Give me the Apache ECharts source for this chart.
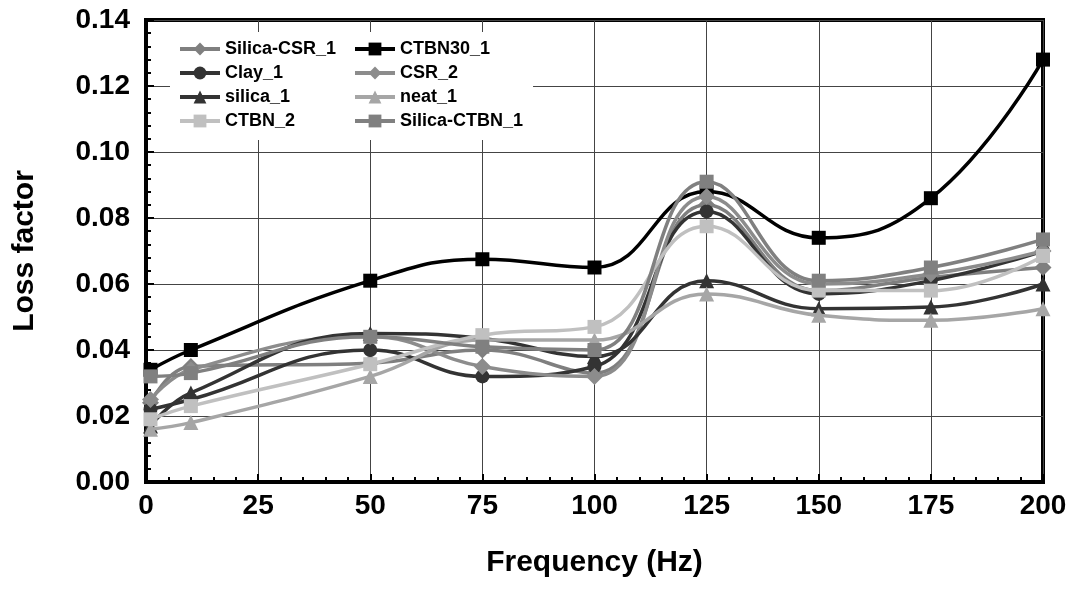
<!DOCTYPE html>
<html>
<head>
<meta charset="utf-8">
<script src="https://cdn.jsdelivr.net/npm/echarts@6/dist/echarts.min.js"></script>
<style>
  html, body { margin: 0; padding: 0; background: #fff; }
  #chart { width: 1078px; height: 612px; }
</style>
</head>
<body>
<div id="chart"></div>
<script>
// Frequencies (Hz) at which the loss factor was measured
const frequency = [1, 10, 50, 75, 100, 125, 150, 175, 200];

// Loss factor per sample
const silicaCsr1  = [0.024, 0.035, 0.036, 0.040, 0.033, 0.084, 0.058, 0.062, 0.065];
const ctbn30_1    = [0.034, 0.040, 0.061, 0.0675, 0.065, 0.088, 0.074, 0.086, 0.128];
const clay1       = [0.022, 0.025, 0.040, 0.032, 0.035, 0.082, 0.057, 0.061, 0.070];
const csr2        = [0.025, 0.034, 0.044, 0.035, 0.032, 0.0865, 0.060, 0.063, 0.070];
const silica1     = [0.017, 0.027, 0.045, 0.0435, 0.038, 0.061, 0.0525, 0.053, 0.060];
const neat1       = [0.016, 0.018, 0.032, 0.043, 0.043, 0.057, 0.0505, 0.049, 0.0525];
const ctbn2       = [0.019, 0.023, 0.0357, 0.0445, 0.047, 0.0775, 0.058, 0.058, 0.0685];
const silicaCtbn1 = [0.032, 0.033, 0.044, 0.041, 0.040, 0.091, 0.061, 0.065, 0.0735];

// Axis tick values
const xTicks = [0, 25, 50, 75, 100, 125, 150, 175, 200];
const yTicks = [0, 0.02, 0.04, 0.06, 0.08, 0.10, 0.12, 0.14];

const FONT = '"Liberation Sans", Arial, sans-serif';

const seriesDefs = [
  { name: 'Silica-CSR_1',  data: silicaCsr1,  color: '#7f7f7f', symbol: 'diamond',  size: 17 },
  { name: 'CTBN30_1',      data: ctbn30_1,    color: '#000000', symbol: 'rect',     size: 14 },
  { name: 'Clay_1',        data: clay1,       color: '#333333', symbol: 'circle',   size: 14 },
  { name: 'CSR_2',         data: csr2,        color: '#8c8c8c', symbol: 'diamond',  size: 17 },
  { name: 'silica_1',      data: silica1,     color: '#333333', symbol: 'triangle', size: 15 },
  { name: 'neat_1',        data: neat1,       color: '#a6a6a6', symbol: 'triangle', size: 15 },
  { name: 'CTBN_2',        data: ctbn2,       color: '#c0c0c0', symbol: 'rect',     size: 14 },
  { name: 'Silica-CTBN_1', data: silicaCtbn1, color: '#808080', symbol: 'rect',     size: 14 }
];

const series = seriesDefs.map((d, i) => ({
  name: d.name,
  type: 'line',
  smooth: 0.45,
  data: frequency.map((f, k) => [f, d.data[k]]),
  symbol: d.symbol,
  symbolSize: d.size,
  showAllSymbol: true,
  z: 2 + i,
  itemStyle: { color: d.color, borderWidth: 0 },
  lineStyle: { color: d.color, width: 3.5 },
  emphasis: { disabled: true }
}));

const legendBase = {
  orient: 'vertical',
  backgroundColor: '#fff',
  itemWidth: 40,
  itemHeight: 16,
  itemGap: 6,
  top: 32,
  lineStyle: { width: 4 },
  textStyle: { fontFamily: FONT, fontWeight: 'bold', fontSize: 18, lineHeight: 18, color: '#000' },
  selectedMode: false
};

const chart = echarts.init(document.getElementById('chart'), null, { renderer: 'canvas' });

chart.setOption({
  backgroundColor: '#fff',
  animation: false,
  grid: {
    left: 146, right: 35, top: 20, bottom: 130,
    show: true, borderColor: '#000', borderWidth: 4, backgroundColor: 'transparent'
  },
  legend: [
    Object.assign({}, legendBase, {
      left: 170, padding: [8, 12, 10, 8],
      data: ['Silica-CSR_1', 'Clay_1', 'silica_1', 'CTBN_2']
    }),
    Object.assign({}, legendBase, {
      left: 345, padding: [8, 10, 10, 8],
      data: ['CTBN30_1', 'CSR_2', 'neat_1', 'Silica-CTBN_1']
    })
  ],
  xAxis: {
    type: 'value',
    min: xTicks[0], max: xTicks[xTicks.length - 1], interval: 25,
    name: 'Frequency (Hz)', nameLocation: 'middle', nameGap: 66,
    nameTextStyle: { fontFamily: FONT, fontWeight: 'bold', fontSize: 30, color: '#000' },
    axisLine: { lineStyle: { color: '#000', width: 4 } },
    axisTick: { inside: true, length: 8, lineStyle: { color: '#000', width: 2 } },
    minorTick: { show: true, splitNumber: 5, length: 5, lineStyle: { color: '#000', width: 2 } },
    axisLabel: {
      margin: 10, fontFamily: FONT, fontWeight: 'bold', fontSize: 28, color: '#000',
      customValues: xTicks
    },
    splitLine: { show: true, lineStyle: { color: '#444', width: 1 } }
  },
  yAxis: {
    type: 'value',
    min: yTicks[0], max: yTicks[yTicks.length - 1], interval: 0.02,
    name: 'Loss factor', nameLocation: 'middle', nameGap: 106, nameRotate: 90,
    nameTextStyle: { fontFamily: FONT, fontWeight: 'bold', fontSize: 30, color: '#000' },
    axisLine: { show: true, lineStyle: { color: '#000', width: 4 } },
    axisTick: { show: true, inside: true, length: 8, lineStyle: { color: '#000', width: 2 } },
    minorTick: { show: true, splitNumber: 5, length: 5, lineStyle: { color: '#000', width: 2 } },
    axisLabel: {
      margin: 16, fontFamily: FONT, fontWeight: 'bold', fontSize: 28, color: '#000',
      formatter: v => v.toFixed(2)
    },
    splitLine: { show: true, lineStyle: { color: '#444', width: 1 } }
  },
  series: series
});
</script>
</body>
</html>
